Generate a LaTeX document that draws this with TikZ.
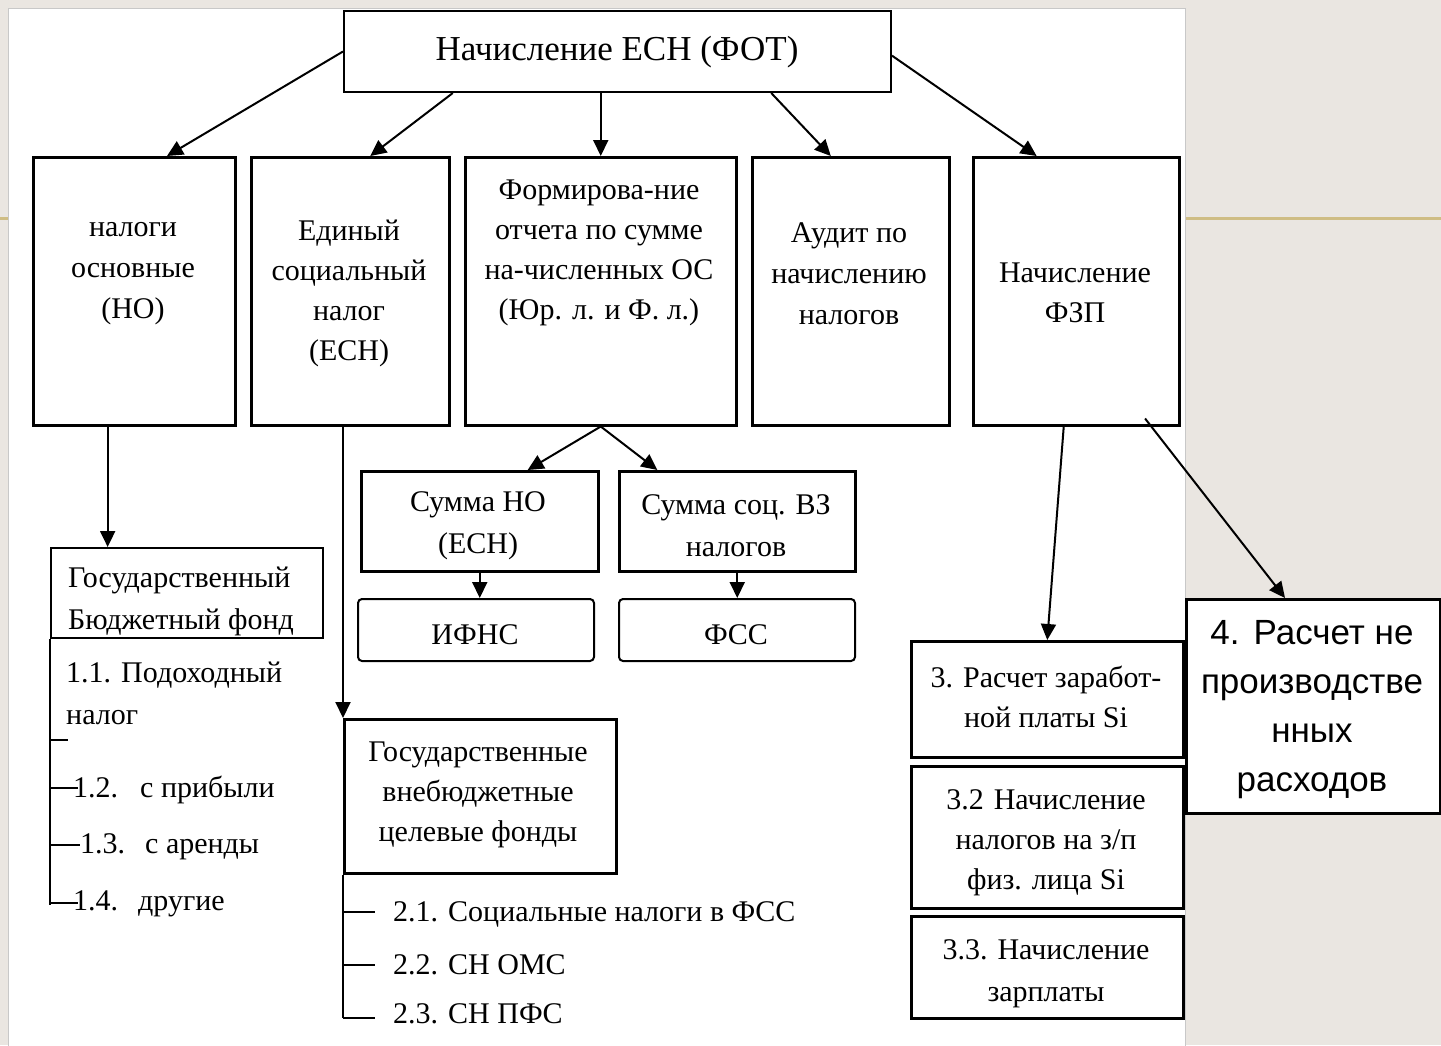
\documentclass[tikz,border=0pt]{standalone}
\usepackage{fontspec}
\setmainfont{Liberation Serif}
\newfontfamily\sansf{Liberation Sans}
\usetikzlibrary{arrows.meta,calc}
\definecolor{bgc}{RGB}{234,230,225}
\definecolor{goldc}{RGB}{207,189,132}
\definecolor{panelc}{RGB}{200,200,200}
\tikzset{
  box/.style={draw, line width=2.5pt, fill=white, inner sep=0pt, anchor=north west},
  rbox/.style={box, line width=2pt, rounded corners=4pt},
  txt/.style={font=\fontsize{30}{40}\selectfont, align=center, inner sep=0pt, yshift=-5pt},
  ltxt/.style={font=\fontsize{30}{42}\selectfont, align=left, anchor=west, inner sep=0pt, yshift=-2pt},
  conn/.style={line width=2pt, -{Triangle[length=16pt,width=15pt]}},
  brk/.style={line width=2.5pt},
  thinbrk/.style={line width=2pt}
}
\begin{document}
\begin{tikzpicture}[x=1pt,y=-1pt]
\useasboundingbox (0,0) rectangle (1441,1045);
\fill[bgc] (0,0) rectangle (1441,1045);
\draw[goldc, line width=3pt] (0,218) -- (1441,218);
\filldraw[fill=white, draw=panelc, line width=1pt] (8,8) rectangle (1185,1060);

% boxes
\node[box, line width=2pt, minimum width=547pt, minimum height=81pt] (top) at (343,10) {};
\node[box, minimum width=202pt, minimum height=268pt] (b1) at (32,156) {};
\node[box, minimum width=198pt, minimum height=268pt] (b2) at (250,156) {};
\node[box, minimum width=271pt, minimum height=268pt] (b3) at (464,156) {};
\node[box, minimum width=197pt, minimum height=268pt] (b4) at (751,156) {};
\node[box, minimum width=206pt, minimum height=268pt] (b5) at (972,156) {};
\node[box, line width=2pt, minimum width=272pt, minimum height=90pt] (gbf) at (50,547) {};
\node[box, minimum width=237pt, minimum height=100pt] (sum1) at (360,470) {};
\node[box, minimum width=236pt, minimum height=100pt] (sum2) at (618,470) {};
\node[rbox, minimum width=236pt, minimum height=62pt] (ifns) at (357,598) {};
\node[rbox, minimum width=236pt, minimum height=62pt] (fss) at (618,598) {};
\node[box, minimum width=272pt, minimum height=154pt] (gvf) at (343,718) {};
\node[box, minimum width=272pt, minimum height=116pt] (r3) at (910,640) {};
\node[box, minimum width=272pt, minimum height=142pt] (r32) at (910,765) {};
\node[box, minimum width=272pt, minimum height=102pt] (r33) at (910,915) {};
\node[box, minimum width=254pt, minimum height=214pt] (r4) at (1185,598) {};

% texts
\node[txt, font=\fontsize{35}{40}\selectfont] (ttop) at (617,47) {Начисление ЕСН (ФОТ)};
\node[txt, font=\fontsize{30}{41}\selectfont] (t1) at (133,269) {налоги\\основные\\(НО)};
\node[txt] (t2) at (349,288) {Единый\\социальный\\налог\\(ЕСН)};
\node[txt] (t3) at (599,248) {Формирова-ние\\отчета по сумме\\на-численных ОС\\(Юр. л. и Ф. л.)};
\node[txt, font=\fontsize{30}{41}\selectfont] (t4) at (849,269) {Аудит по\\начислению\\налогов};
\node[txt] (t5) at (1075,288) {Начисление\\ФЗП};
\node[ltxt] (tgbf) at (68,599) {Государственный\\Бюджетный фонд};
\node[ltxt] (t11) at (66,691) {1.1. Подоходный\\налог};
\node[ltxt] (t12) at (73,788) {1.2.\hspace{22pt}с прибыли};
\node[ltxt] (t13) at (80,845) {1.3.\hspace{20pt}с аренды};
\node[ltxt] (t14) at (73,902) {1.4.\hspace{20pt}другие};
\node[txt, font=\fontsize{30}{42}\selectfont] (ts1) at (478,521) {Сумма НО\\(ЕСН)};
\node[txt, font=\fontsize{30}{42}\selectfont] (ts2) at (736,521) {Сумма соц. ВЗ\\налогов};
\node[txt] (tifns) at (475,630) {ИФНС};
\node[txt] (tfss) at (736,630) {ФСС};
\node[txt] (tgvf) at (478,790) {Государственные\\внебюджетные\\целевые фонды};
\node[ltxt] (t21) at (393,912) {2.1. Социальные налоги в ФСС};
\node[ltxt] (t22) at (393,963) {2.2. СН ОМС};
\node[ltxt] (t23) at (393,1012) {2.3. СН ПФС};
\node[txt] (tr3) at (1046,692) {3. Расчет заработ-\\ной платы Si};
\node[txt] (tr32) at (1046,838) {3.2\hspace{10pt}Начисление\\налогов на з/п\\физ. лица Si};
\node[txt, font=\fontsize{30}{42}\selectfont] (tr33) at (1046,969) {3.3.\hspace{10pt}Начисление\\зарплаты};
\node[txt, font=\sansf\fontsize{35}{49}\selectfont] (tr4) at (1312,705) {4.\hspace{14pt}Расчет не\\производстве\\нных\\расходов};

% connectors
\draw[conn] (top.west) -- ($(b1.north west)!0.66!(b1.north east)$);
\draw[conn] ($(top.south west)!0.2!(top.south east)$) -- ($(b2.north west)!0.6!(b2.north east)$);
\draw[conn] (top.south -| b3.north) -- (b3.north);
\draw[conn] ($(top.south west)!0.78!(top.south east)$) -- ($(b4.north west)!0.4!(b4.north east)$);
\draw[conn] ($(top.north east)!0.55!(top.south east)$) -- ($(b5.north west)!0.31!(b5.north east)$);

\coordinate (c1) at ($(b1.south west)!0.37!(b1.south east)$);
\draw[conn] (c1) -- (c1 |- gbf.north);
\draw[conn] (b2.south -| gvf.north west) -- (gvf.north west);

\draw[conn] (b3.south) -- ($(sum1.north west)!0.7!(sum1.north east)$);
\draw[conn] (b3.south) -- ($(sum2.north west)!0.165!(sum2.north east)$);
\draw[conn] (sum1.south) -- (sum1.south |- ifns.north);
\draw[conn] (sum2.south) -- (sum2.south |- fss.north);

\draw[conn] ($(b5.south west)!0.44!(b5.south east)$) -- (r3.north);
\draw[conn] ([yshift=8pt]$(b5.south west)!0.83!(b5.south east)$) -- ($(r4.north west)!0.39!(r4.north east)$);

% bracket lists
\coordinate (g0) at (gbf.south west);
\coordinate (gend) at (50,905);
\draw[brk] (g0) -- (gend);
\draw[brk] (50,740) -- (68,740);
\draw[brk] (50,788) -- (78,788);
\draw[brk] (50,845) -- (80,845);
\draw[brk] (50,903) -- (78,903);

\coordinate (v0) at (gvf.south west);
\coordinate (vend) at (343,1018);
\draw[thinbrk] (v0) -- (vend);
\draw[line width=1.5pt] (343,912) -- (375,912);
\draw[thinbrk] (343,965) -- (375,965);
\draw[thinbrk] (343,1018) -- (375,1018);
\end{tikzpicture}
\end{document}
